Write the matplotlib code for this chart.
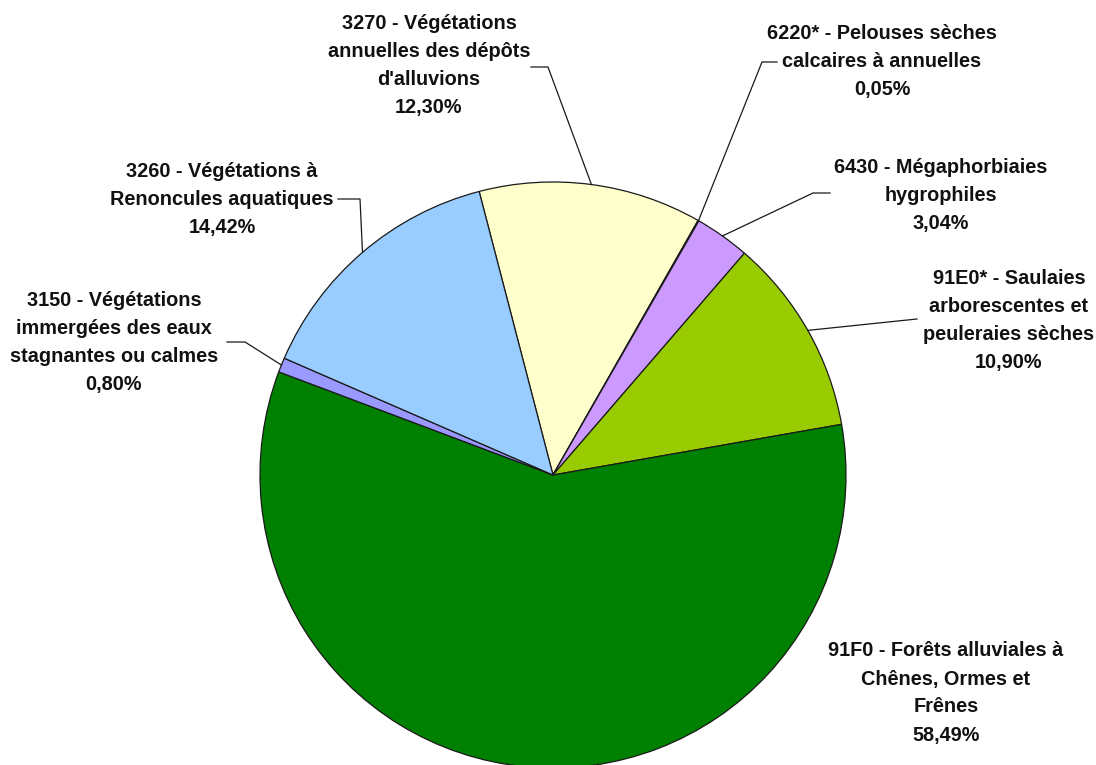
import numpy as np
import matplotlib.pyplot as plt

plt.rcParams['font.family'] = ['Liberation Sans', 'DejaVu Sans']

# Habitat data (clockwise from the 3270 slice)
labels = [
    "3270 - Végétations\nannuelles des dépôts\nd'alluvions",
    "6220* - Pelouses sèches\ncalcaires à annuelles",
    "6430 - Mégaphorbiaies\nhygrophiles",
    "91E0* - Saulaies\narborescentes et\npeuleraies sèches",
    "91F0 - Forêts alluviales à\nChênes, Ormes et\nFrênes",
    "3150 - Végétations\nimmergées des eaux\nstagnantes ou calmes",
    "3260 - Végétations à\nRenoncules aquatiques",
]
shares = [12.30, 0.05, 3.04, 10.90, 58.49, 0.80, 14.42]
colors = ["#FFFFCC", "#FF99CC", "#CC99FF", "#99CC00", "#008000", "#9999FF", "#99CCFF"]

W, H = 1096, 765
fig = plt.figure(figsize=(W / 100, H / 100), dpi=100)
ax = fig.add_axes([0, 0, 1, 1])

cx, cy, R = 553, H - 475, 293
wedges, _ = ax.pie(shares, colors=colors, startangle=104.6, counterclock=False,
                   center=(cx, cy), radius=R, frame=True,
                   wedgeprops=dict(edgecolor="#1a1a1a", linewidth=0.9))

# label placement (pixel coords, y from top): text centre, elbow, line start
layout = [
    ((429, 65), (548, 67), (531, 67)),
    ((882, 61), (762, 62), (777, 62)),
    ((941, 195), (813, 193), (830, 193)),
    ((1009, 320), None, (917, 319)),
    ((946, 693), None, None),
    ((114, 342), (245, 342), (227, 342)),
    ((222, 199), (360, 199), (338, 199)),
]

for w, lab, val, (tc, elbow, start) in zip(wedges, labels, shares, layout):
    txt = lab + "\n" + f"{val:.2f}%".replace(".", ",")
    ax.text(tc[0], H - tc[1], txt, ha="center", va="center", fontsize=14.3,
            fontweight="bold", linespacing=1.6, color="#111111")
    if start is None:
        continue
    mid = np.deg2rad((w.theta1 + w.theta2) / 2)
    ex, ey = cx + R * np.cos(mid), cy + R * np.sin(mid)
    xs = [start[0]]
    ys = [H - start[1]]
    if elbow is not None:
        xs.append(elbow[0])
        ys.append(H - elbow[1])
    xs.append(ex)
    ys.append(ey)
    ax.plot(xs, ys, color="#1a1a1a", linewidth=0.9)

ax.set_xlim(0, W)
ax.set_ylim(0, H)
ax.set_aspect("equal")
ax.axis("off")

fig.savefig("out.png", dpi=100, facecolor="white")
